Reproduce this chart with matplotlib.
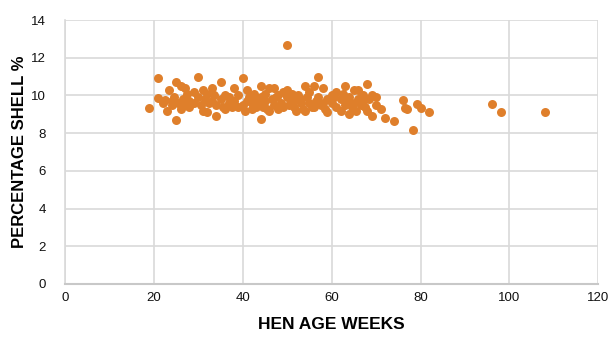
import matplotlib.pyplot as plt

# hen age (weeks) and shell percentage (10 per row)
age = [19, 21, 21, 22, 22.5, 23, 23.5, 24, 24, 24.5,
       25, 25, 25.5, 26, 26, 26.5, 27, 27, 27.5, 28,
       28, 29, 29, 30, 30, 30.5, 31, 31, 31.5, 32,
       32, 32.5, 33, 33, 33.5, 34, 34, 35, 35, 35.5,
       36, 36, 37, 37, 37.5, 38, 38, 39, 39, 40,
       40, 40.5, 41, 41, 41.5, 42, 42, 42.5, 43, 43,
       43.5, 44, 44, 44, 44.5, 45, 45, 45.5, 46, 46,
       46.5, 47, 47, 47.5, 48, 48, 48.5, 49, 49, 50,
       50, 50, 50.5, 51, 51, 51.5, 52, 52, 52.5, 53,
       53, 53.5, 54, 54, 54.5, 55, 55, 55.5, 56, 56,
       56.5, 57, 57, 57.5, 58, 58, 58.5, 59, 59, 60,
       60, 60.5, 61, 61, 62, 62, 62.5, 63, 63, 63.5,
       64, 64, 64.5, 65, 65, 65.5, 66, 66, 66.5, 67,
       67, 67.5, 68, 68, 68.5, 69, 69, 70, 70, 71,
       72, 74, 76, 76.5, 77, 78.4, 79.3, 80.2, 82, 96,
       98, 108]
shell = [9.35, 10.9, 9.85, 9.6, 9.75, 9.2, 10.3, 9.5, 9.7, 9.9,
         10.7, 8.7, 9.6, 9.3, 10.5, 9.8, 10.4, 9.5, 10.1, 9.4,
         9.7, 10.2, 9.6, 11.0, 9.9, 9.5, 10.3, 9.2, 9.8, 10.1,
         9.1, 9.6, 10.4, 9.7, 10.0, 8.9, 9.5, 10.7, 9.8, 9.4,
         9.3, 10.0, 9.6, 9.9, 9.4, 10.4, 9.7, 9.4, 10.0, 10.9,
         9.5, 9.2, 10.3, 9.7, 9.9, 9.3, 9.6, 10.1, 9.8, 9.4,
         9.6, 10.5, 8.75, 9.9, 9.4, 9.7, 10.1, 9.3, 10.4, 9.2,
         9.8, 10.4, 9.5, 9.9, 9.3, 10.0, 9.6, 9.4, 10.2, 12.7,
         9.9, 10.3, 9.5, 9.7, 10.1, 9.4, 9.8, 9.2, 10.0, 9.6,
         9.8, 9.3, 10.5, 9.2, 9.9, 9.6, 10.2, 9.4, 10.5, 9.4,
         9.7, 11.0, 9.9, 9.5, 10.4, 9.6, 9.3, 9.8, 9.1, 10.0,
         9.6, 9.9, 10.2, 9.4, 9.2, 9.8, 10.1, 10.5, 9.5, 9.7,
         9.0, 9.9, 9.4, 10.3, 9.6, 9.2, 9.8, 10.3, 9.5, 9.7,
         10.0, 9.4, 10.6, 9.2, 9.8, 10.0, 8.9, 9.5, 9.9, 9.3,
         8.8, 8.65, 9.75, 9.35, 9.3, 8.17, 9.55, 9.35, 9.12, 9.55,
         9.12, 9.12]

plt.rcParams['font.family'] = ['Liberation Sans', 'DejaVu Sans']

plt.figure(figsize=(6.08, 3.40), dpi=100)
ax = plt.axes([0.107, 0.165, 0.877, 0.776])
ax.scatter(age, shell, s=42, color='#DF7F2B', zorder=3, linewidths=0)

ax.set_xlim(0, 120)
ax.set_ylim(0, 14)
ax.set_xticks(range(0, 121, 20))
ax.set_yticks(range(0, 15, 2))
ax.grid(True, color='#d9d9d9', linewidth=1.2)
for side in ['top', 'right']:
    ax.spines[side].set_visible(False)
ax.spines['left'].set_color('#d9d9d9')
ax.spines['bottom'].set_color('#c8c8c8')
ax.spines['left'].set_linewidth(1.2)
ax.spines['bottom'].set_linewidth(1.5)
ax.tick_params(length=0, labelsize=9.5, colors='#111111')
ax.tick_params(axis='x', pad=6)
ax.tick_params(axis='y', pad=14)

ax.set_xlabel('HEN AGE WEEKS', fontsize=12.5, fontweight='bold', labelpad=9)
ax.set_ylabel('PERCENTAGE SHELL %', fontsize=12, fontweight='bold', labelpad=3)

plt.savefig('out.png', dpi=100)
